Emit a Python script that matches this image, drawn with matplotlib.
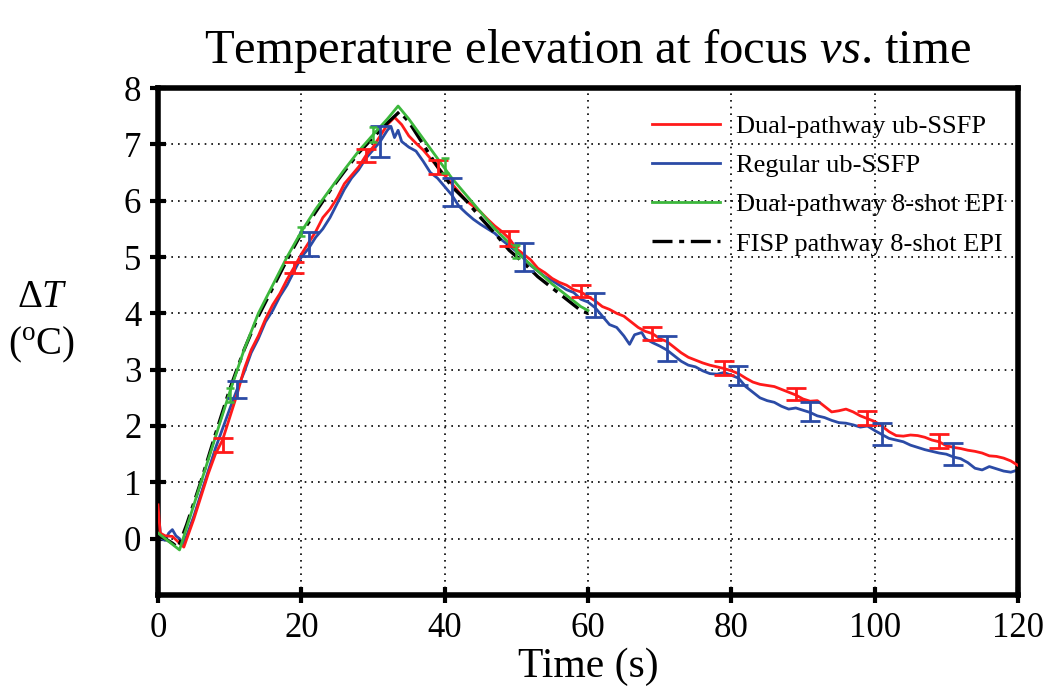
import numpy as np
import matplotlib.pyplot as plt

plt.rcParams['font.family'] = ['Liberation Serif', 'DejaVu Serif']
plt.rcParams['mathtext.fontset'] = 'custom'
plt.rcParams['mathtext.rm'] = 'Liberation Serif'
plt.rcParams['mathtext.it'] = 'Liberation Serif:italic'

# Dual-pathway ub-SSFP (red)
t_red = [0, 0.3, 1, 2, 3, 3.6, 5, 6, 7, 8, 9, 10, 11, 12, 13, 14, 15, 16, 17, 18, 19, 20,
         21, 22, 23, 24, 25, 26, 27, 28, 29, 30, 31, 32, 33, 34, 35, 36, 37, 38, 39, 40,
         41, 42, 43, 44, 45, 46, 47, 48, 49, 50, 51, 52, 53, 54, 55, 56, 57, 58, 59, 60,
         61, 62, 63, 64, 65, 66, 67, 68, 69, 70, 71, 72, 73, 74, 75, 76, 77, 78, 79, 80,
         81, 82, 83, 84, 85, 86, 87, 88, 89, 90, 91, 92, 93, 94, 95, 96, 97, 98, 99, 100,
         101, 102, 103, 104, 105, 106, 107, 108, 109, 110, 111, 112, 113, 114, 115, 116,
         117, 118, 119, 120]
dT_red = [0.6, 0.1, 0.05, 0.04, -0.08, -0.15, 0.35, 0.75, 1.15, 1.5, 1.75, 2.15, 2.55, 3.0,
          3.35, 3.6, 3.9, 4.15, 4.35, 4.6, 4.82, 5.05, 5.25, 5.45, 5.7, 5.85, 6.05, 6.3, 6.45,
          6.6, 6.8, 6.95, 7.15, 7.35, 7.48, 7.35, 7.15, 7.02, 6.9, 6.75, 6.6, 6.45, 6.3, 6.15,
          6.0, 5.9, 5.8, 5.67, 5.55, 5.45, 5.33, 5.15, 5.05, 4.95, 4.8, 4.72, 4.62, 4.55, 4.5,
          4.42, 4.38, 4.3, 4.22, 4.12, 4.07, 4.0, 3.95, 3.85, 3.75, 3.68, 3.64, 3.55, 3.5, 3.4,
          3.3, 3.22, 3.17, 3.12, 3.08, 3.05, 3.02, 2.98, 2.93, 2.85, 2.78, 2.74, 2.72, 2.7,
          2.65, 2.6, 2.55, 2.48, 2.44, 2.45, 2.35, 2.25, 2.27, 2.3, 2.25, 2.18, 2.13, 2.08,
          2.0, 1.9, 1.83, 1.82, 1.84, 1.83, 1.8, 1.75, 1.72, 1.65, 1.62, 1.6, 1.57, 1.55,
          1.52, 1.47, 1.46, 1.43, 1.38, 1.3]

# Regular ub-SSFP (blue)
t_blue = [0, 0.4, 1, 1.5, 2, 2.5, 3, 3.5, 4, 5, 6, 7, 8, 9, 10, 11, 12, 13, 14, 15, 16, 17,
          18, 19, 20, 21, 22, 23, 24, 25, 26, 27, 28, 29, 30, 31, 32, 32.5, 33, 33.5, 34, 35,
          36, 37, 38, 39, 40, 41, 42, 43, 44, 45, 46, 47, 48, 49, 50, 51, 52, 53, 54, 55, 56,
          57, 58, 59, 60, 61, 62, 63, 64, 65, 65.8, 66.5, 67.5, 68, 69, 70, 71, 72, 73, 74,
          75, 76, 77, 78, 79, 80, 81, 82, 83, 84, 85, 86, 87, 88, 89, 90, 91, 92, 93, 94, 95,
          96, 97, 98, 99, 100, 101, 102, 103, 104, 105, 106, 107, 108, 109, 110, 111, 112,
          113, 114, 115, 116, 117, 118, 119, 120]
dT_blue = [0.55, 0.0, -0.03, 0.1, 0.16, 0.05, 0.0, -0.1, 0.05, 0.4, 0.8, 1.2, 1.6, 1.95,
           2.3, 2.64, 2.95, 3.3, 3.55, 3.85, 4.05, 4.3, 4.5, 4.75, 5.0, 5.15, 5.35, 5.5, 5.7,
           5.95, 6.2, 6.4, 6.55, 6.75, 6.9, 7.05, 7.25, 7.32, 7.12, 7.25, 7.05, 6.95, 6.88,
           6.7, 6.5, 6.4, 6.25, 6.1, 5.9, 5.78, 5.67, 5.58, 5.5, 5.42, 5.3, 5.2, 5.1, 4.98,
           4.85, 4.75, 4.65, 4.58, 4.5, 4.42, 4.37, 4.25, 4.2, 4.1, 3.95, 3.8, 3.75, 3.6,
           3.45, 3.62, 3.66, 3.55, 3.48, 3.42, 3.35, 3.25, 3.15, 3.08, 3.05, 2.98, 2.93,
           2.92, 2.95, 2.9, 2.85, 2.7, 2.6, 2.5, 2.45, 2.42, 2.35, 2.3, 2.32, 2.28, 2.24,
           2.18, 2.15, 2.1, 2.06, 2.05, 2.02, 1.98, 2.0, 1.92, 1.85, 1.78, 1.75, 1.72, 1.66,
           1.62, 1.58, 1.55, 1.52, 1.5, 1.45, 1.42, 1.35, 1.25, 1.22, 1.28, 1.24, 1.2, 1.18,
           1.22]

# Dual-pathway 8-shot EPI (green)
t_green = [0, 1, 2, 3, 4, 6, 8, 10, 12, 14, 16, 18, 20, 22, 24, 26, 28, 30, 32, 33.5, 35,
           37, 39, 41, 43, 45, 47, 49, 51, 53, 55, 57, 59, 60]
dT_green = [0.1, 0.0, -0.1, -0.2, 0.2, 1.0, 1.8, 2.6, 3.35, 4.0, 4.5, 5.0, 5.45, 5.85, 6.2,
            6.55, 6.88, 7.17, 7.45, 7.68, 7.45, 7.1, 6.75, 6.4, 6.1, 5.8, 5.5, 5.25, 4.98,
            4.75, 4.52, 4.32, 4.12, 4.05]

# FISP pathway 8-shot EPI (black)
t_black = [0, 1, 2, 2.8, 4, 6, 8, 10, 12, 14, 16, 18, 20, 22, 24, 26, 28, 30, 32, 33.7, 35,
           37, 39, 41, 43, 45, 47, 49, 51, 53, 55, 57, 59, 60]
dT_black = [0.05, 0.0, -0.08, -0.16, 0.25, 1.02, 1.85, 2.65, 3.35, 3.95, 4.45, 4.95, 5.42,
            5.8, 6.18, 6.52, 6.85, 7.12, 7.38, 7.58, 7.4, 7.0, 6.6, 6.25, 6.0, 5.7, 5.42,
            5.12, 4.9, 4.65, 4.45, 4.25, 4.05, 4.0]

# error bars
eb_red_t = [9, 19, 29, 39, 49, 59, 69, 79, 89, 99, 109]
eb_red_y = [1.66, 4.82, 6.8, 6.6, 5.33, 4.4, 3.64, 3.03, 2.57, 2.14, 1.73]
eb_red_e = [0.12, 0.1, 0.12, 0.12, 0.14, 0.11, 0.11, 0.12, 0.11, 0.12, 0.12]

eb_blue_t = [11, 21, 31, 41, 51, 61, 71, 81, 91, 101, 111]
eb_blue_y = [2.64, 5.23, 7.05, 6.16, 5.0, 4.15, 3.37, 2.9, 2.25, 1.86, 1.5]
eb_blue_e = [0.15, 0.22, 0.27, 0.25, 0.25, 0.21, 0.22, 0.17, 0.17, 0.2, 0.2]

eb_green_t = [10, 20, 30, 40, 50]
eb_green_y = [2.55, 5.45, 7.17, 6.63, 5.1]
eb_green_e = [0.12, 0.08, 0.13, 0.13, 0.12]

RED = '#ff1a1a'
BLUE = '#2b4ba6'
GREEN = '#3cb83c'

fig = plt.figure(figsize=(10.5, 6.92), dpi=100)
ax = fig.add_axes([0.1505, 0.1402, 0.819, 0.7326])

ax.plot(t_red, dT_red, color=RED, lw=2, label='Dual-pathway ub-SSFP', zorder=3)
ax.plot(t_blue, dT_blue, color=BLUE, lw=2, label='Regular ub-SSFP', zorder=2)
ax.plot(t_green, dT_green, color=GREEN, lw=2, label='Dual-pathway 8-shot EPI', zorder=4)
ax.plot(t_black, dT_black, color='black', lw=2.4, ls=(0, (6, 2, 1.5, 2)),
        label='FISP pathway 8-shot EPI', zorder=3.5)

ax.errorbar(eb_red_t, eb_red_y, yerr=eb_red_e, fmt='none', ecolor=RED, elinewidth=2,
            capsize=7, capthick=2, zorder=5)
ax.errorbar(eb_blue_t, eb_blue_y, yerr=eb_blue_e, fmt='none', ecolor=BLUE, elinewidth=2,
            capsize=7.5, capthick=2, zorder=5)
ax.errorbar(eb_green_t, eb_green_y, yerr=eb_green_e, fmt='none', ecolor=GREEN,
            elinewidth=1.8, capsize=3, capthick=1.8, zorder=5)

ax.set_xlim(0, 120)
ax.set_ylim(-1, 8)
ax.set_xticks(range(0, 121, 20))
ax.set_yticks(range(0, 9))
ax.grid(True, color='black', ls=(0, (1, 3)), lw=1.2)
ax.set_axisbelow(True)
for s in ax.spines.values():
    s.set_linewidth(4)
ax.tick_params(direction='inout', length=12, width=3, labelsize=25, pad=6)

ax.set_title(r'Temperature elevation at focus $\mathit{vs}$. time', fontsize=35, pad=18)
ax.set_xlabel('Time (s)', fontsize=30, labelpad=2)
fig.text(0.04, 0.535, r'$\Delta T$' + '\n' + r'($^{\mathrm{o}}$C)', fontsize=28,
         ha='center', va='center', linespacing=1.3)

leg = ax.legend(loc='upper right', bbox_to_anchor=(1.012, 0.995), frameon=False,
                fontsize=19, handlelength=2.6, labelspacing=0.6, borderaxespad=0.5,
                handletextpad=0.6)

fig.savefig('out.png', dpi=100)
